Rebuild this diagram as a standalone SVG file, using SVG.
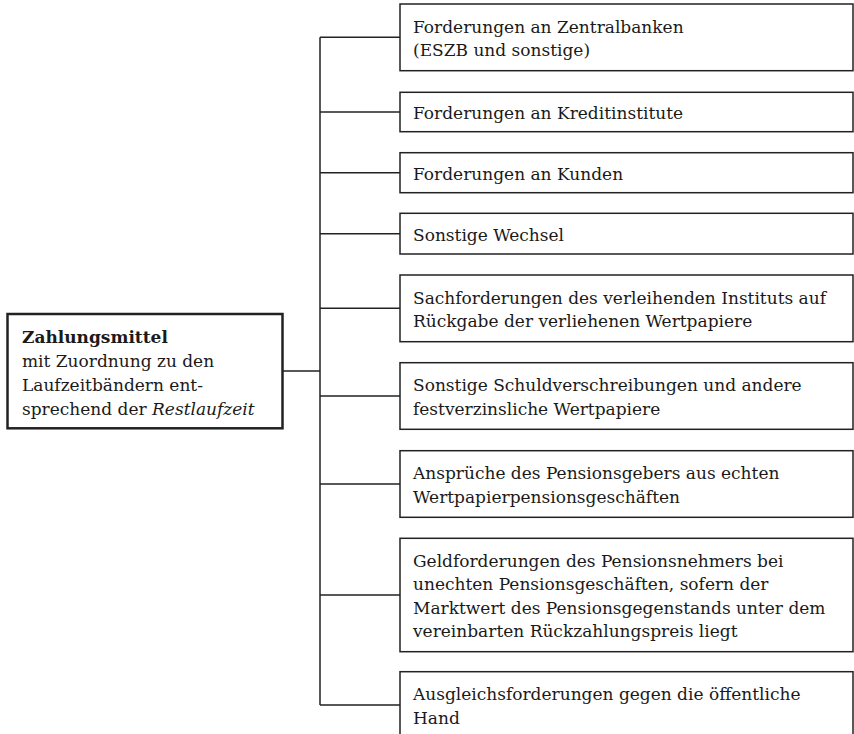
<svg xmlns="http://www.w3.org/2000/svg" width="854" height="734" viewBox="0 0 854 734">
<style>
  .box { fill: #fff; stroke: #222; stroke-width: 1.5; }
  .main { fill: #fff; stroke: #222; stroke-width: 2.5; }
  .t { font-family: "DejaVu Serif", "Liberation Serif", serif; font-size: 17px; fill: #1a1a1a; }
  .b { font-weight: bold; }
  .i { font-style: italic; }
  .con { fill: none; stroke: #222; stroke-width: 1.5; }
</style>
<rect width="854" height="734" fill="#fff"/>
<g id="connectors">
  <path class="con" d="M283,371 H320 M320,37.3 V705 M320,37.3 H400 M320,112 H400 M320,172.7 H400 M320,233.7 H400 M320,308.3 H400 M320,396 H400 M320,484 H400 M320,595 H400 M320,705 H400"/>
</g>
<g id="root">
  <rect class="main" x="7.5" y="314" width="275" height="114.3"/>
  <text class="t" x="22" y="343.3"><tspan class="b">Zahlungsmittel</tspan></text>
  <text class="t" x="22" y="367.3">mit Zuordnung zu den</text>
  <text class="t" x="22" y="391">Laufzeitbändern ent-</text>
  <text class="t" x="22" y="414.5">sprechend der <tspan class="i">Restlaufzeit</tspan></text>
</g>
<g id="n1">
  <rect class="box" x="400" y="4" width="453" height="66.7"/>
  <text class="t" x="413" y="32.5">Forderungen an Zentralbanken</text>
  <text class="t" x="413" y="55.8">(ESZB und sonstige)</text>
</g>
<g id="n2">
  <rect class="box" x="400" y="92.3" width="453" height="39.4"/>
  <text class="t" x="413" y="119">Forderungen an Kreditinstitute</text>
</g>
<g id="n3">
  <rect class="box" x="400" y="152.7" width="453" height="40"/>
  <text class="t" x="413" y="179.7">Forderungen an Kunden</text>
</g>
<g id="n4">
  <rect class="box" x="400" y="213.3" width="453" height="40.7"/>
  <text class="t" x="413" y="240.7">Sonstige Wechsel</text>
</g>
<g id="n5">
  <rect class="box" x="400" y="275" width="453" height="66.7"/>
  <text class="t" x="413" y="303.7">Sachforderungen des verleihenden Instituts auf</text>
  <text class="t" x="413" y="327">Rückgabe der verliehenen Wertpapiere</text>
</g>
<g id="n6">
  <rect class="box" x="400" y="362.7" width="453" height="66.6"/>
  <text class="t" x="413" y="391.4">Sonstige Schuldverschreibungen und andere</text>
  <text class="t" x="413" y="414.7">festverzinsliche Wertpapiere</text>
</g>
<g id="n7">
  <rect class="box" x="400" y="450.7" width="453" height="66.6"/>
  <text class="t" x="413" y="479.4">Ansprüche des Pensionsgebers aus echten</text>
  <text class="t" x="413" y="502.7">Wertpapierpensionsgeschäften</text>
</g>
<g id="n8">
  <rect class="box" x="400" y="538.3" width="453" height="113.4"/>
  <text class="t" x="413" y="567.1">Geldforderungen des Pensionsnehmers bei</text>
  <text class="t" x="413" y="590.4">unechten Pensionsgeschäften, sofern der</text>
  <text class="t" x="413" y="613.7">Marktwert des Pensionsgegenstands unter dem</text>
  <text class="t" x="413" y="637">vereinbarten Rückzahlungspreis liegt</text>
</g>
<g id="n9">
  <rect class="box" x="400" y="671.7" width="453" height="66.7"/>
  <text class="t" x="413" y="700.4">Ausgleichsforderungen gegen die öffentliche</text>
  <text class="t" x="413" y="723.7">Hand</text>
</g>
</svg>
